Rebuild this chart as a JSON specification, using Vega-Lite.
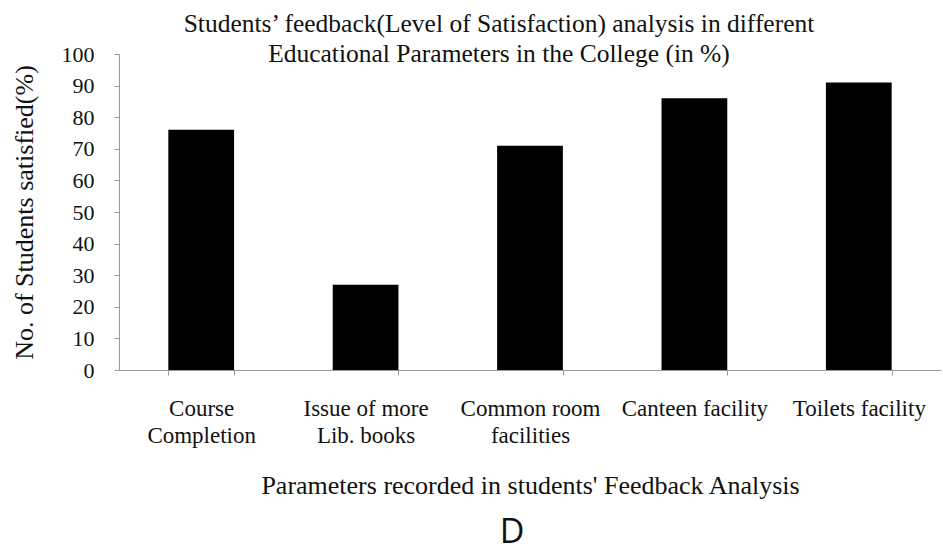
{
  "$schema": "https://vega.github.io/schema/vega-lite/v6.json",
  "background": "white",
  "padding": {"left": 11, "top": 11, "right": 2, "bottom": 0},
  "title": {"text": "D", "orient": "bottom", "anchor": "middle", "font": "Open Sans", "fontSize": 34, "fontWeight": "normal", "color": "#111", "offset": 18, "dx": 36},
  "vconcat": [
    {
      "title": {
        "text": ["Students’ feedback(Level of Satisfaction) analysis in different", "Educational Parameters in the College  (in %)"],
        "font": "Liberation Serif", "fontSize": 25.5, "fontWeight": "normal", "color": "#111",
        "lineHeight": 30, "anchor": "middle", "dx": -31, "offset": -24
      },
      "width": 822,
      "height": 316,
      "data": {"values": [
        {"parameter": "Course Completion", "satisfied": 76},
        {"parameter": "Issue of more Lib. books", "satisfied": 27},
        {"parameter": "Common room facilities", "satisfied": 71},
        {"parameter": "Canteen facility", "satisfied": 86},
        {"parameter": "Toilets facility", "satisfied": 91}
      ]},
      "mark": {"type": "bar", "color": "black"},
      "encoding": {
        "x": {
          "field": "parameter", "type": "nominal", "sort": null,
          "scale": {"paddingInner": 0.6, "paddingOuter": 0.3},
          "axis": {
            "title": "Parameters recorded in students' Feedback Analysis",
            "labelAngle": 0, "tickBand": "extent",
            "labelExpr": "datum.value=='Course Completion'?['Course','Completion']:datum.value=='Issue of more Lib. books'?['Issue of more','Lib. books']:datum.value=='Common room facilities'?['Common room','facilities']:datum.value",
            "labelFont": "Liberation Serif", "labelFontSize": 23, "labelColor": "#111", "labelLineHeight": 27,
            "labelPadding": 22, "tickSize": 5, "tickColor": "#999", "domainColor": "#999",
            "titleFont": "Liberation Serif", "titleFontSize": 26, "titleFontWeight": "normal", "titleColor": "#111",
            "titlePadding": 25
          }
        },
        "y": {
          "field": "satisfied", "type": "quantitative",
          "scale": {"domain": [0, 100], "nice": false},
          "axis": {
            "title": "No. of Students satisfied(%)",
            "values": [0, 10, 20, 30, 40, 50, 60, 70, 80, 90, 100],
            "grid": false, "tickSize": 5, "tickColor": "#999", "domainColor": "#999",
            "labelFont": "Liberation Serif", "labelFontSize": 22, "labelColor": "#111", "labelPadding": 20,
            "titleFont": "Liberation Serif", "titleFontSize": 26, "titleFontWeight": "normal", "titleColor": "#111",
            "titlePadding": 24
          }
        }
      }
    }
  ],
  "config": {"view": {"stroke": null}, "concat": {"spacing": 0}}
}
